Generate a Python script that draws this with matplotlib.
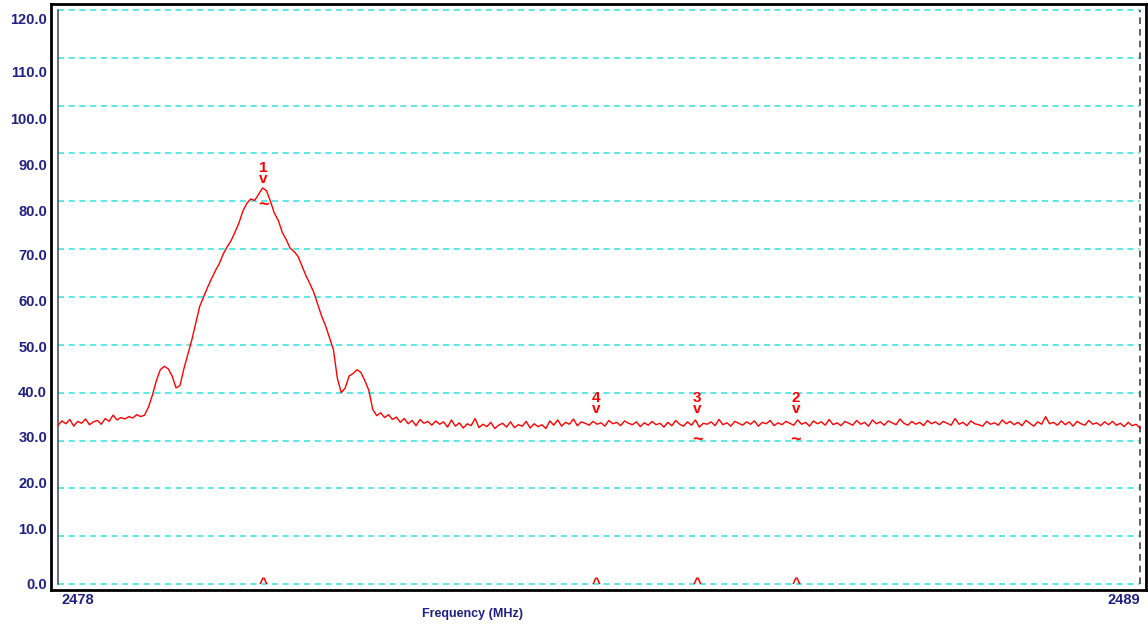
import numpy as np
import matplotlib
matplotlib.use('Agg')
import matplotlib.pyplot as plt

plt.rcParams['font.family'] = ['Liberation Sans', 'DejaVu Sans']

# spectrum trace, dB levels (0.04 MHz steps, 2478 -> 2489 MHz)
level = [
    33.2, 34.1, 33.5, 34.4, 33.0, 34.0, 33.6, 34.5, 33.3, 33.9, 34.2, 33.4, 34.6, 34.0, 35.3, 34.3,
    34.8, 34.5, 35.0, 34.7, 35.4, 35.0,
    35.3, 37.0, 39.5, 42.5, 44.8, 45.5, 45.0, 43.5, 41.0, 41.5,
    45.0, 48.0, 51.0, 54.5, 58.0, 60.0, 62.0, 63.8, 65.5, 67.0,
    69.0, 70.5, 71.8, 73.6, 75.5, 78.0, 79.6, 80.5, 80.2, 81.5,
    82.8, 82.2, 80.0, 77.5, 76.0, 73.5, 72.0, 70.2, 69.5, 68.5,
    66.5, 64.5, 62.8, 61.0, 58.5, 56.0, 54.0, 51.5, 49.0, 43.0,
    40.0, 41.0, 43.5, 44.0, 44.8, 44.2, 42.5, 40.5, 36.5, 35.2,
    35.8, 34.8, 35.4, 34.4,
    34.9, 33.8, 34.6, 33.5, 34.2, 33.1, 34.4, 33.6, 34.0, 33.2,
    34.1, 33.4, 33.9, 32.8, 34.3, 33.0, 33.7, 32.6, 33.5, 33.1,
    34.6, 32.7, 33.4, 32.9, 33.8, 32.5, 33.2, 33.6, 32.8, 33.9,
    32.7, 33.3, 33.0, 34.0, 32.6, 33.5, 32.9, 33.3, 32.5, 34.1,
    33.2, 34.3, 33.0, 33.8, 33.4, 34.5, 33.1, 33.9, 33.6, 33.2,
    34.0, 33.4, 33.7, 33.0, 34.2, 33.5, 33.8, 33.1, 34.1, 33.6,
    33.3, 33.9, 32.9, 33.7, 33.2, 34.0, 33.3, 33.6, 32.8, 33.8,
    33.1, 34.2, 33.4, 33.0, 33.9, 33.2, 34.3, 32.8, 33.6, 33.4,
    33.9, 33.1, 34.4, 33.3, 33.7, 33.0, 34.0, 33.6, 33.2, 33.9,
    33.4, 34.1, 33.0, 33.8, 33.5, 34.2, 33.1, 33.7, 33.3, 34.0,
    33.6, 33.2, 34.3, 33.4, 33.8, 33.0, 34.1, 33.5, 33.9, 33.2,
    34.4, 33.3, 33.7, 33.1, 34.0, 33.6, 33.2, 34.2, 33.4, 33.8,
    33.0, 34.3, 33.5, 33.9, 33.2, 34.1, 33.7, 33.3, 34.5, 33.6,
    33.2, 34.0, 33.4, 33.8, 33.1, 34.2, 33.5, 33.9, 33.3, 34.0,
    33.6, 33.2, 34.6, 33.4, 33.8, 33.1, 34.1, 33.5, 33.3, 33.0,
    34.0, 33.4, 33.7, 33.2, 34.3, 33.5, 34.0, 33.3, 33.8, 33.1,
    34.2, 33.6, 33.0, 33.9, 33.4, 35.0, 33.5, 33.8, 33.2, 34.1,
    33.3, 33.9, 33.0, 34.0, 33.5, 33.2, 34.2, 33.4, 33.7, 33.1,
    33.9, 33.3, 34.0, 33.2, 33.6, 32.9, 33.8, 33.1, 33.4, 32.6,
]
f_start, f_stop = 2478, 2489

# markers: name, frequency, level of the arrow tip, level of the "~" mark
mk_names = ['1', '2', '3', '4']
mk_freq = [2480.09, 2485.50, 2484.50, 2483.47]
mk_level = [83.2, 35.1, 35.1, 35.1]
mk_tilde = [79.2, 29.9, 29.9, None]

y_ticks = np.arange(0, 121, 10)
# the instrument draws its scale labels a bit off the grid lines
y_label_pos = [-0.2, 11.3, 20.9, 30.5, 39.9, 49.3, 59.0, 68.6, 77.8, 87.4, 97.0, 106.8, 118.0]

navy = '#1f1f84'
red = '#ff0000'
cyan = '#30e0e0'

freq = np.linspace(f_start, f_stop, len(level))

fig = plt.figure(figsize=(11.48, 6.26), dpi=100)
ax = fig.add_axes([51 / 1148, 36 / 626, 1095 / 1148, 586 / 626])

ax.set_xlim(f_start - 7 / 98.36, f_stop + 6 / 98.36)
ax.set_ylim(-1.25, 121.25)

for y in y_ticks:
    ax.plot([f_start, f_stop], [y, y], color=cyan, lw=1.1, ls=(0, (4, 3)), zorder=1)
ax.plot([f_start, f_start], [0, 120], color='#555555', lw=1.2, zorder=1)
ax.plot([f_stop, f_stop], [0, 120], color='#444444', lw=1.2, ls=(0, (4, 3)), zorder=1)

ax.plot(freq, level, color=red, lw=1.0, zorder=3)

for name, f, lv, tl in zip(mk_names, mk_freq, mk_level, mk_tilde):
    ax.text(f, lv, name + '\nv', color=red, fontsize=11, fontweight='bold', ha='center', va='bottom',
            linespacing=0.75, multialignment='center')
    if tl is not None:
        ax.text(f, tl, '~', color=red, fontsize=13, fontweight='bold', ha='center', va='center')
    ax.text(f, 0.1, '^', color=red, fontsize=11, fontweight='bold', ha='center', va='center')

for sp in ax.spines.values():
    sp.set_linewidth(2)
    sp.set_color('black')

ax.set_yticks([])
ax.set_xticks([])
for v, p in zip(y_ticks, y_label_pos):
    ax.text(f_start - 11 / 98.36, p, '%.1f' % v, color=navy, fontsize=10.5, fontweight='bold',
            ha='right', va='center')

ax.text(f_start + 0.04, -1.9, str(f_start), color=navy, fontsize=10.5, fontweight='bold', ha='left', va='top')
ax.text(f_stop, -1.9, str(f_stop), color=navy, fontsize=10.5, fontweight='bold', ha='right', va='top')
fig.text(472 / 1148, 1 - 614 / 626, 'Frequency (MHz)', color=navy, fontsize=9, fontweight='bold',
         ha='center', va='center')

fig.savefig('out.png', dpi=100)
